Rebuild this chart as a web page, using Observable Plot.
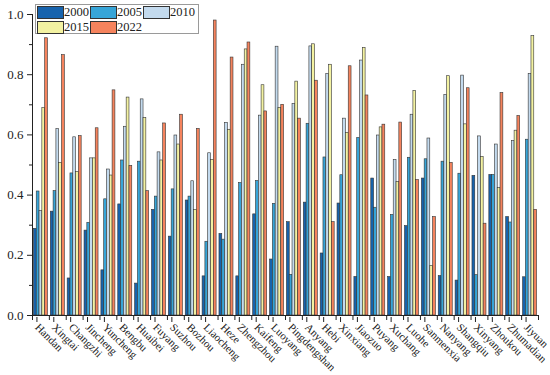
<!DOCTYPE html>
<html><head><meta charset="utf-8">
<script src="https://cdn.jsdelivr.net/npm/d3@7"></script>
<script src="https://cdn.jsdelivr.net/npm/@observablehq/plot@0.6"></script>
<style>
body{margin:0;background:#fff}
#wrap{position:relative;width:550px;height:375px;font-family:"Liberation Serif","Times New Roman",serif}
#legend{position:absolute;left:35px;top:4px;width:162px;height:28px;border:1px solid #9a9a9a;background:#fff}
.item{position:absolute;height:12px;font-size:12.5px;line-height:12px;color:#222;white-space:nowrap}
.sw{position:absolute;left:0;top:0;width:25px;height:11px;border:1px solid #333}
.lab{position:absolute;left:27px;top:0}
</style>
</head><body>
<div id="wrap"><div id="legend"></div></div>
<script>
const cities = ["Handan","Xingtai","Changzhi","Jincheng","Yuncheng","Bengbu","Huaibei","Fuyang","Suzhou","Bozhou","Liaocheng","Heze","Zhengzhou","Kaifeng","Luoyang","Pingdengshan","Anyang","Hebi","Xinxiang","Jiaozuo","Puyang","Xuchang","Luohe","Sanmenxia","Nanyang","Shangqiu","Xinyang","Zhoukou","Zhumadian","Jiyuan"];
const years = ["2000","2005","2010","2015","2022"];
const v2000 = [0.288,0.345,0.123,0.282,0.150,0.369,0.106,0.351,0.262,0.382,0.130,0.271,0.130,0.336,0.186,0.310,0.375,0.206,0.372,0.128,0.455,0.128,0.297,0.455,0.131,0.116,0.464,0.467,0.327,0.127];
const v2005 = [0.412,0.413,0.472,0.308,0.386,0.515,0.511,0.395,0.419,0.395,0.245,0.252,0.440,0.447,0.371,0.135,0.637,0.525,0.466,0.590,0.358,0.334,0.524,0.519,0.511,0.471,0.134,0.467,0.309,0.584];
const v2010 = [0.347,0.619,0.592,0.522,0.485,0.627,0.718,0.542,0.598,0.446,0.539,0.640,0.833,0.664,0.893,0.703,0.894,0.803,0.654,0.847,0.598,0.517,0.667,0.588,0.733,0.797,0.595,0.568,0.580,0.803];
const v2015 = [0.689,0.507,0.477,0.522,0.465,0.724,0.656,0.515,0.568,0.351,0.517,0.617,0.884,0.765,0.690,0.777,0.901,0.833,0.607,0.889,0.625,0.444,0.746,0.165,0.795,0.635,0.527,0.423,0.614,0.928];
const v2022 = [0.921,0.865,0.596,0.622,0.748,0.497,0.413,0.638,0.667,0.620,0.980,0.857,0.907,0.678,0.700,0.654,0.780,0.310,0.828,0.731,0.634,0.641,0.450,0.327,0.507,0.755,0.305,0.739,0.663,0.351];
const colors = ["#1763ad","#37a5d8","#c3daee","#f3f2a2","#f5835d"];
const yTicks = [0,0.2,0.4,0.6,0.8,1.0];

const series = [v2000,v2005,v2010,v2015,v2022];
const groupPad = 0.085, barW = (1 - 2*groupPad)/years.length;
const data = cities.flatMap((c,i)=>years.map((y,j)=>({city:c,i,year:y,j,value:series[j][i]})));

const chart = Plot.plot({
  width:550, height:375,
  marginLeft:32, marginRight:12, marginTop:14, marginBottom:60,
  x:{type:"linear", domain:[0,cities.length], axis:null},
  y:{domain:[0,1], axis:null},
  color:{domain:years, range:colors},
  style:{fontFamily:'"Liberation Serif","Times New Roman",serif', fontSize:"13px", color:"#222", background:"transparent"},
  marks:[
    Plot.rect(data,{x1:d=>d.i+groupPad+d.j*barW, x2:d=>d.i+groupPad+(d.j+1)*barW, y1:0, y2:"value", fill:"year", stroke:"#333", strokeWidth:0.6}),
    Plot.ruleX([0],{stroke:"#222"}),
    Plot.ruleY([0],{stroke:"#222"}),
    Plot.axisY({ticks:yTicks, tickFormat:d3.format(".1f"), tickSize:5, tickPadding:4, label:null, fontSize:13, stroke:"#222"}),
    Plot.axisY({ticks:yTicks.slice(0,-1).map(t=>+(t+0.1).toFixed(1)), tickFormat:()=>"", tickSize:3, label:null, stroke:"#222"}),
    Plot.axisX({ticks:cities.map((c,i)=>i+0.5), tickFormat:d=>cities[Math.round(d-0.5)], tickRotate:45, tickSize:5, tickPadding:3, dx:-4, dy:2, label:null, fontSize:11, stroke:"#222"}),
    Plot.axisX({ticks:d3.range(cities.length+1), tickFormat:()=>"", tickSize:5, label:null, stroke:"#222"})
  ]
});
document.getElementById("wrap").prepend(chart);

const legend = document.getElementById("legend");
years.forEach((y,k)=>{
  const it = document.createElement("div");
  it.className = "item";
  it.style.left = (1 + 53*(k%3)) + "px";
  it.style.top = (1 + 15*Math.floor(k/3)) + "px";
  it.innerHTML = `<span class="sw" style="background:${colors[k]}"></span><span class="lab">${y}</span>`;
  legend.appendChild(it);
});
</script>
</body></html>
